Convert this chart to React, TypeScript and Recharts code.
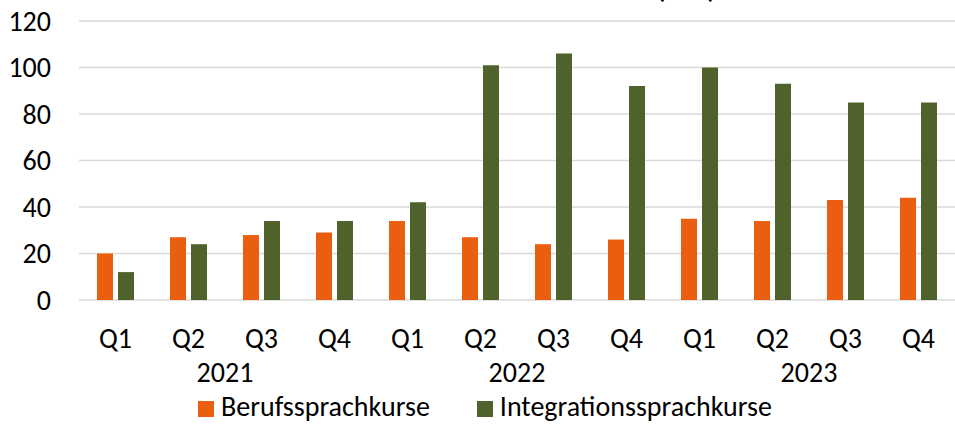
import { BarChart, Bar, XAxis, YAxis, CartesianGrid, Legend } from "recharts";

const quarters = ["Q1", "Q2", "Q3", "Q4", "Q1", "Q2", "Q3", "Q4", "Q1", "Q2", "Q3", "Q4"];
const years = ["2021", "2022", "2023"];
const berufssprachkurse = [20, 27, 28, 29, 34, 27, 24, 26, 35, 34, 43, 44];
const integrationssprachkurse = [12, 24, 34, 34, 42, 101, 106, 92, 100, 93, 85, 85];
const yTicks = [0, 20, 40, 60, 80, 100, 120];

const ORANGE = "#EA5E10";
const GREEN = "#50622B";
const FONT = "Carlito, Lato, sans-serif";
const FS = 28;

const data = quarters.map((q, i) => ({
  key: `${years[Math.floor(i / 4)]}-${q}`,
  quarter: q,
  year: years[Math.floor(i / 4)],
  beruf: berufssprachkurse[i],
  integ: integrationssprachkurse[i],
}));

// width of one category band, used to put the year label between Q2 and Q3
const BAND = (955 - 79) / quarters.length;

function QuarterTick(props: any) {
  const { x, y, index } = props;
  const d = data[index];
  return (
    <g>
      <text x={x} y={y + 46} textAnchor="middle" fontSize={FS} fontFamily={FONT} fill="#000">
        {d.quarter}
      </text>
      {index % 4 === 1 && (
        <text x={x + BAND / 2} y={y + 80} textAnchor="middle" fontSize={FS} fontFamily={FONT} fill="#000">
          {d.year}
        </text>
      )}
    </g>
  );
}

function LegendContent() {
  const items = [
    { label: "Berufssprachkurse", color: ORANGE },
    { label: "Integrationssprachkurse", color: GREEN },
  ];
  return (
    <div
      style={{
        display: "flex",
        height: 28,
        lineHeight: "22px",
        paddingLeft: 198,
        fontFamily: FONT,
        fontSize: FS,
        color: "#000",
      }}
    >
      {items.map((it, i) => (
        <div key={it.label} style={{ display: "flex", alignItems: "center", height: 22, marginRight: i === 0 ? 47 : 0 }}>
          <span style={{ width: 16, height: 16, background: it.color, marginRight: 7, marginTop: 4 }} />
          <span>{it.label}</span>
        </div>
      ))}
    </div>
  );
}

export default function App() {
  return (
    <div style={{ position: "absolute", left: 0, top: 0, width: 955, height: 424, overflow: "hidden", background: "#fff" }}>
      <div
        style={{
          position: "absolute",
          left: 657,
          top: -24,
          fontFamily: FONT,
          fontSize: 26,
          fontWeight: 700,
          lineHeight: "26px",
          whiteSpace: "nowrap",
        }}
      >
        (Tsd.)
      </div>
      <BarChart
        width={955}
        height={424}
        data={data}
        margin={{ top: 21, right: 0, left: 0, bottom: 0 }}
        barSize={16}
        barGap={5}
      >
        <CartesianGrid vertical={false} stroke="#D9D9D9" strokeWidth={1.5} />
        <XAxis
          dataKey="key"
          interval={0}
          axisLine={false}
          tickLine={false}
          tickSize={0}
          height={96}
          tick={<QuarterTick />}
        />
        <YAxis
          domain={[0, 120]}
          ticks={yTicks}
          width={79}
          axisLine={false}
          tickLine={false}
          tickSize={0}
          tickMargin={28}
          tick={{ fontSize: FS, fontFamily: FONT, fill: "#000" }}
        />
        <Legend verticalAlign="bottom" height={28} content={<LegendContent />} />
        <Bar dataKey="beruf" name="Berufssprachkurse" fill={ORANGE} isAnimationActive={false} />
        <Bar dataKey="integ" name="Integrationssprachkurse" fill={GREEN} isAnimationActive={false} />
      </BarChart>
    </div>
  );
}
